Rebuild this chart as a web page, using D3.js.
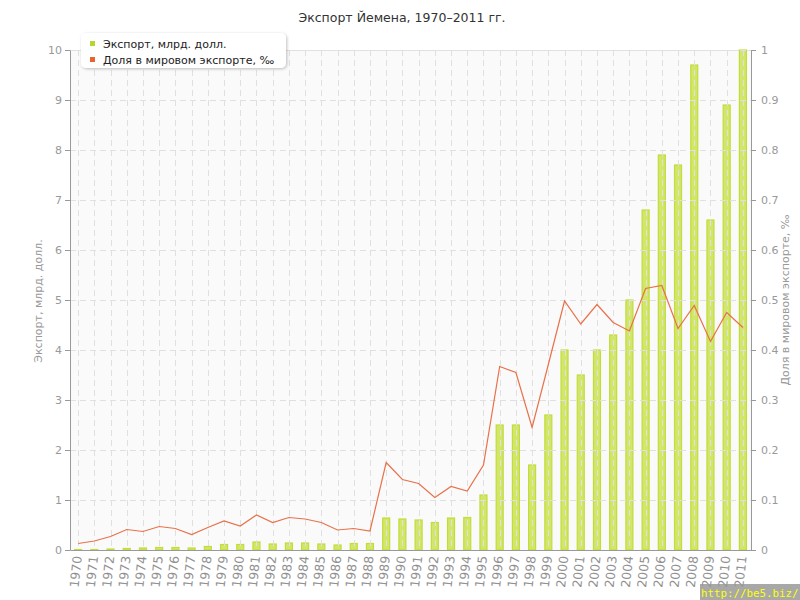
<!DOCTYPE html>
<html><head><meta charset="utf-8">
<script src="https://cdn.jsdelivr.net/npm/d3@7"></script>
<style>body{margin:0;background:#fff}svg{display:block}</style>
</head><body>
<svg id="c" width="800" height="600"></svg>
<script>
const years = d3.range(1970, 2012).map(String);
const exportVals = [0.01,0.01,0.02,0.03,0.04,0.05,0.05,0.04,0.07,0.11,
  0.11,0.16,0.12,0.14,0.14,0.12,0.10,0.13,0.13,0.64,
  0.62,0.60,0.55,0.64,0.65,1.1,2.5,2.5,1.7,2.7,
  4.0,3.5,4.0,4.3,5.0,6.8,7.9,7.7,9.7,6.6,
  8.9,10.0];
const shareVals = [0.013,0.018,0.027,0.041,0.037,0.047,0.043,0.031,0.045,0.058,
  0.048,0.070,0.055,0.065,0.062,0.055,0.040,0.043,0.038,0.175,
  0.141,0.133,0.105,0.127,0.118,0.170,0.367,0.355,0.245,0.371,
  0.498,0.452,0.491,0.455,0.438,0.523,0.529,0.443,0.489,0.417,
  0.475,0.445];
const leftTicks = d3.range(0, 11);
const rightTicks = d3.range(0, 11).map(d => d / 10);
const title = "Экспорт Йемена, 1970–2011 гг.";
const leftLabel = "Экспорт, млрд. долл.";
const rightLabel = "Доля в мировом экспорте, ‰";

const svg = d3.select("#c");
const L = 70, R = 751, T = 50, B = 550;
const font = "DejaVu Sans, Verdana, sans-serif";

const x = d3.scaleBand().domain(years).range([L, R]);
const yL = d3.scaleLinear().domain([0, 10]).range([B, T]);
const yR = d3.scaleLinear().domain([0, 1]).range([B, T]);

svg.append("text").attr("x", 402).attr("y", 22).attr("text-anchor", "middle")
  .attr("font-family", font).attr("font-size", 12.5).attr("fill", "#333").text(title);

svg.append("rect").attr("x", L).attr("y", T).attr("width", R - L).attr("height", B - T).attr("fill", "#fafafa");
svg.append("line").attr("x1", L).attr("x2", R).attr("y1", T + 0.5).attr("y2", T + 0.5).attr("stroke", "#e2e2e2");

// bars
svg.append("g").selectAll("rect").data(years).join("rect")
  .attr("x", d => x(d) + x.bandwidth() / 2 - 3.5)
  .attr("width", 7)
  .attr("y", (d, i) => yL(exportVals[i]))
  .attr("height", (d, i) => B - yL(exportVals[i]))
  .attr("fill", "#d2e66a").attr("stroke", "#c3dc3a").attr("stroke-width", 1.2);

// grid on top
const grid = svg.append("g").attr("stroke", "#e0e0e0").attr("stroke-dasharray", "6,4").attr("stroke-width", 1);
grid.selectAll("line.v").data(years).join("line").attr("class", "v")
  .attr("x1", d => Math.round(x(d) + x.bandwidth() / 2) + 0.5).attr("x2", d => Math.round(x(d) + x.bandwidth() / 2) + 0.5)
  .attr("y1", T).attr("y2", B);
grid.selectAll("line.h").data(leftTicks.slice(1)).join("line").attr("class", "h")
  .attr("x1", L).attr("x2", R).attr("y1", d => Math.round(yL(d)) + 0.5).attr("y2", d => Math.round(yL(d)) + 0.5);

// line
svg.append("path").datum(shareVals)
  .attr("d", d3.line().x((d, i) => x(years[i]) + x.bandwidth() / 2).y(d => yR(d)))
  .attr("fill", "none").attr("stroke", "#e8714a").attr("stroke-width", 1.2);

// axes
const ax = g => {
  g.selectAll(".domain").attr("stroke", "#999");
  g.selectAll(".tick line").attr("stroke", "#999");
  g.selectAll("text").attr("fill", "#999").attr("font-family", font).attr("font-size", 11);
};
svg.append("g").attr("transform", `translate(${L},0)`)
  .call(d3.axisLeft(yL).tickValues(leftTicks).tickSize(5).tickSizeOuter(0).tickPadding(3)).call(ax);
svg.append("g").attr("transform", `translate(${R},0)`)
  .call(d3.axisRight(yR).tickValues(rightTicks).tickSize(5).tickSizeOuter(0).tickPadding(5)
    .tickFormat(d => d === 0 ? "0" : d === 1 ? "1" : d3.format(".1f")(d))).call(ax);
const xa = svg.append("g").attr("transform", `translate(0,${B})`)
  .call(d3.axisBottom(x).tickSize(0).tickSizeOuter(0)).call(ax);
xa.selectAll(".tick text").attr("transform", "rotate(-84)").attr("text-anchor", "end")
  .attr("x", -6).attr("y", 0).attr("dy", "0.35em").attr("font-size", 12.5).attr("fill", "#909090");

svg.append("text").attr("transform", "translate(42,301) rotate(-90)").attr("text-anchor", "middle")
  .attr("font-family", font).attr("font-size", 11).attr("fill", "#999").text(leftLabel);
svg.append("text").attr("transform", "translate(789,300) rotate(-90)").attr("text-anchor", "middle")
  .attr("font-family", font).attr("font-size", 11).attr("fill", "#999").text(rightLabel);

// legend
const defs = svg.append("defs");
const f = defs.append("filter").attr("id", "sh").attr("x", "-10%").attr("y", "-30%").attr("width", "120%").attr("height", "160%");
f.append("feDropShadow").attr("dx", 1).attr("dy", 1).attr("stdDeviation", 1.5).attr("flood-color", "#000").attr("flood-opacity", 0.25);
const lg = svg.append("g");
lg.append("rect").attr("x", 81).attr("y", 33).attr("width", 205).attr("height", 35).attr("rx", 5)
  .attr("fill", "#fff").attr("filter", "url(#sh)");
const items = [[leftLabel, "#b5d631"], [rightLabel, "#e8642e"]];
items.forEach((it, i) => {
  lg.append("rect").attr("x", 90).attr("y", 41 + i * 16).attr("width", 5).attr("height", 5).attr("fill", it[1]);
  lg.append("text").attr("x", 103).attr("y", 47.5 + i * 16).attr("font-family", font).attr("font-size", 11)
    .attr("fill", "#222").text(it[0]);
});

// watermark
svg.append("rect").attr("x", 700).attr("y", 584).attr("width", 100).attr("height", 16).attr("fill", "#999").attr("opacity", 0.85);
svg.append("text").attr("x", 701).attr("y", 597).attr("font-family", "DejaVu Sans Mono, monospace").attr("font-size", 10.8)
  .attr("fill", "#ffff00").text("http://be5.biz/");
</script>
</body></html>
